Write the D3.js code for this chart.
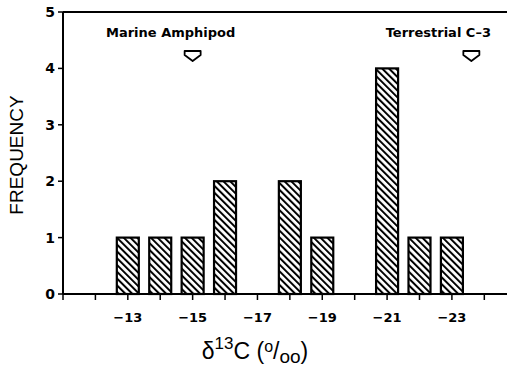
<!DOCTYPE html>
<html>
<head>
<meta charset="utf-8">
<script src="https://cdn.jsdelivr.net/npm/d3@7"></script>
<style>
  body { margin: 0; background: #fff; }
  svg { display: block; }
</style>
</head>
<body>
<div id="chart"></div>
<script>
// delta 13C histogram
const bins = [-13, -14, -15, -16, -17, -18, -19, -20, -21, -22, -23];
const counts = [1, 1, 1, 2, 0, 2, 1, 0, 4, 1, 1];
const xTicks = [-11, -12, -13, -14, -15, -16, -17, -18, -19, -20, -21, -22, -23, -24];
const xLabels = [-13, -15, -17, -19, -21, -23];
const yTicks = [0, 1, 2, 3, 4, 5];
const markers = [
    { name: 'Marine Amphipod', value: -15 },
    { name: 'Terrestrial C\u20133', value: -23.6 }
];

const W = 510, H = 369;
const labelFont = '"DejaVu Sans", sans-serif';

const svg = d3.select('#chart').append('svg')
    .attr('width', W).attr('height', H);

const x = d3.scaleLinear().domain([-11, -24.7]).range([63, 507]);
const y = d3.scaleLinear().domain([0, 5]).range([294, 12]);
const barW = 22;

// hatch pattern, lines running top-left to bottom-right
const pat = svg.append('defs').append('pattern')
    .attr('id', 'hatch')
    .attr('patternUnits', 'userSpaceOnUse')
    .attr('width', 4.8).attr('height', 6)
    .attr('patternTransform', 'rotate(-45)');
pat.append('rect').attr('width', 4.8).attr('height', 6).attr('fill', '#fff');
pat.append('line')
    .attr('x1', 1).attr('y1', 0).attr('x2', 1).attr('y2', 6)
    .attr('stroke', '#000').attr('stroke-width', 2);

// bars
svg.selectAll('.bar')
    .data(bins.map((b, i) => ({ b, c: counts[i] })).filter(d => d.c > 0))
    .enter()
    .append('rect')
    .attr('x', d => x(d.b) - barW / 2)
    .attr('y', d => y(d.c))
    .attr('width', barW)
    .attr('height', d => y(0) - y(d.c))
    .attr('fill', 'url(#hatch)')
    .attr('stroke', '#000')
    .attr('stroke-width', 2.2);

// x axis
svg.append('line')
    .attr('x1', x(-11)).attr('x2', x(-24.7))
    .attr('y1', y(0)).attr('y2', y(0))
    .attr('stroke', '#000').attr('stroke-width', 2);
svg.selectAll('.xtick')
    .data(xTicks).enter().append('line')
    .attr('x1', d => x(d)).attr('x2', d => x(d))
    .attr('y1', y(0)).attr('y2', y(0) + 6)
    .attr('stroke', '#000').attr('stroke-width', 1.5);
svg.selectAll('.xlab')
    .data(xLabels).enter().append('text')
    .attr('x', d => x(d))
    .attr('y', 322)
    .attr('text-anchor', 'middle')
    .attr('font-family', labelFont)
    .attr('font-weight', 'bold')
    .attr('font-size', 13)
    .text(d => '\u2212' + Math.abs(d));

// y axis and top frame line
svg.append('line')
    .attr('x1', x(-11)).attr('x2', x(-11))
    .attr('y1', y(0)).attr('y2', y(5))
    .attr('stroke', '#000').attr('stroke-width', 2);
svg.append('line')
    .attr('x1', x(-11)).attr('x2', x(-24.7))
    .attr('y1', y(5)).attr('y2', y(5))
    .attr('stroke', '#000').attr('stroke-width', 2);
svg.selectAll('.ytick')
    .data(yTicks).enter().append('line')
    .attr('x1', x(-11) - 5).attr('x2', x(-11))
    .attr('y1', d => y(d)).attr('y2', d => y(d))
    .attr('stroke', '#000').attr('stroke-width', 1.5);
svg.selectAll('.ylab')
    .data(yTicks).enter().append('text')
    .attr('x', x(-11) - 8)
    .attr('y', d => y(d))
    .attr('dy', '0.36em')
    .attr('text-anchor', 'end')
    .attr('font-family', labelFont)
    .attr('font-weight', 'bold')
    .attr('font-size', 14)
    .text(d => d);

// axis titles
svg.append('text')
    .attr('transform', 'translate(23,155) rotate(-90)')
    .attr('text-anchor', 'middle')
    .attr('font-family', '"Liberation Sans", Arial, sans-serif')
    .attr('font-size', 19)
    .text('FREQUENCY');

const xt = svg.append('text')
    .attr('x', 255).attr('y', 359)
    .attr('text-anchor', 'middle')
    .attr('font-family', '"Liberation Sans", Arial, sans-serif')
    .attr('font-size', 23);
xt.append('tspan').text('\u03b4');
xt.append('tspan').attr('dy', -10).attr('font-size', 17).text('13');
xt.append('tspan').attr('dy', 10).text('C (');
xt.append('tspan').attr('dy', -7).attr('font-size', 16).text('o');
xt.append('tspan').attr('dy', 7).text('/');
xt.append('tspan').attr('dy', 4).attr('font-size', 19).text('oo');
xt.append('tspan').attr('dy', -4).text(')');

// source markers
const arrow = 'M-8,0 L8,0 L8,4 L0,10 L-8,4 Z';
markers.forEach((m, i) => {
    const g = svg.append('g');
    g.append('text')
        .attr('x', i === 0 ? x(m.value) - 22 : x(m.value) - 33)
        .attr('y', 37)
        .attr('text-anchor', 'middle')
        .attr('font-family', labelFont)
        .attr('font-weight', 'bold')
        .attr('font-size', 13)
        .text(m.name);
    g.append('path')
        .attr('d', arrow)
        .attr('transform', `translate(${x(m.value)},51)`)
        .attr('fill', '#fff')
        .attr('stroke', '#000')
        .attr('stroke-width', 1.8)
        .attr('stroke-linejoin', 'round');
});
</script>
</body>
</html>
